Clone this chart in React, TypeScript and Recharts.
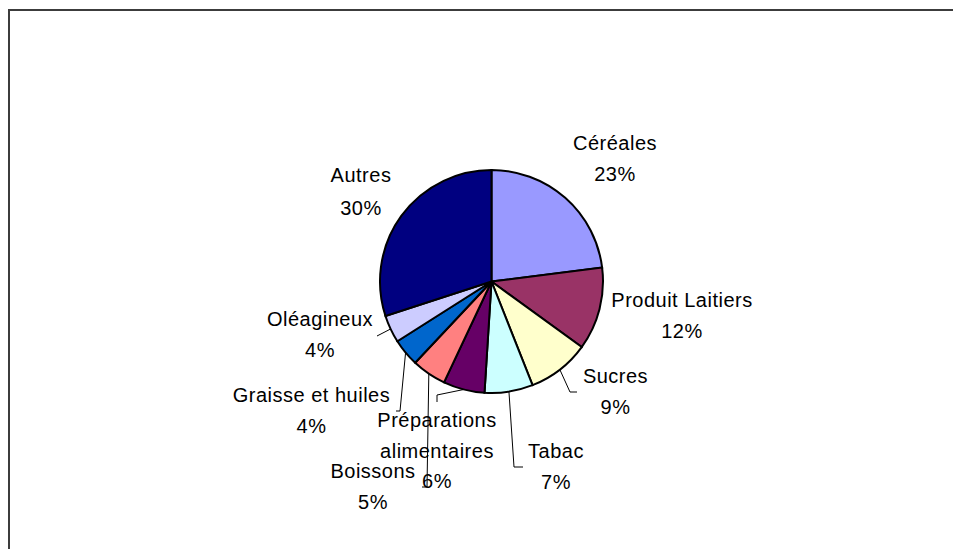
import React from "react";
import { Pie, PieChart, Cell } from "recharts";

const categories = [
  "Céréales",
  "Produit Laitiers",
  "Sucres",
  "Tabac",
  "Préparations alimentaires",
  "Boissons",
  "Graisse et huiles",
  "Oléagineux",
  "Autres",
];
const shares = [23, 12, 9, 7, 6, 5, 4, 4, 30];
const colors = [
  "#9999FF",
  "#993366",
  "#FFFFCC",
  "#CCFFFF",
  "#660066",
  "#FF8080",
  "#0066CC",
  "#CCCCFF",
  "#000080",
];

// label anchor (centre x, first baseline) relative to the pie centre
const labelAnchors: [number, number][] = [
  [123.5, -131.5],
  [190.5, 25.5],
  [124, 101.5],
  [64.5, 176.5],
  [-54.5, 145.5],
  [-118.5, 196.5],
  [-180, 120.5],
  [-171.5, 44.5],
  [-130.5, -99.5],
];

// leader line bends, relative to the pie centre (start is the slice edge)
const leaders: [number, number][][] = [
  [],
  [],
  [[78.5, 110.5], [85.5, 110.5]],
  [[22.5, 185.5], [31.5, 185.5]],
  [[-54.5, 113.5], [-54.5, 120.5]],
  [[-64.5, 205.5], [-69.5, 205.5]],
  [[-91.5, 129.5], [-95.5, 129.5]],
  [[-114.5, 54.5]],
  [],
];

const data = categories.map((name, i) => ({ name, value: shares[i] }));

const W = 953;
const H = 541;
const CX = 483.5;
const CY = 273.5;
const R = 111.5;
const LINE = 30.5;
const RAD = Math.PI / 180;

const fontStyle = {
  fontFamily: "'Liberation Sans', Arial, sans-serif",
  fontSize: 20,
  letterSpacing: 0.5,
};

function renderLabel(props: any) {
  const { cx, cy, midAngle, outerRadius, index, percent } = props;
  const [dx, dy] = labelAnchors[index];
  const name = categories[index];
  const lines = name === "Préparations alimentaires" ? name.split(" ") : [name];
  lines.push(`${Math.round(percent * 100)}%`);
  const sx = cx + outerRadius * Math.cos(-midAngle * RAD);
  const sy = cy + outerRadius * Math.sin(-midAngle * RAD);
  const pts = [[sx, sy], ...leaders[index].map(([px, py]) => [cx + px, cy + py])];
  const gap = index === 8 ? 33 : LINE;
  return (
    <g key={`lbl-${index}`}>
      {pts.length > 1 && (
        <polyline
          points={pts.map((p) => p.join(",")).join(" ")}
          fill="none"
          stroke="#000"
          strokeWidth={1}
        />
      )}
      {lines.map((t, j) => (
        <text
          key={j}
          x={cx + dx}
          y={cy + dy + j * gap}
          textAnchor="middle"
          fill="#000"
          style={fontStyle}
        >
          {t}
        </text>
      ))}
    </g>
  );
}

export default function App() {
  return (
    <div style={{ position: "relative", width: W, height: H, overflow: "hidden" }}>
      <div
        style={{
          position: "absolute",
          left: 0,
          top: 1,
          width: W + 20,
          height: H + 20,
          borderTop: "2px solid #3c3c3c",
          borderLeft: "2px solid #3c3c3c",
          boxSizing: "border-box",
        }}
      />
      <div style={{ position: "absolute", left: 0, top: 0 }}>
        <PieChart width={W} height={H} margin={{ top: 0, right: 0, bottom: 0, left: 0 }}>
          <Pie
            data={data}
            dataKey="value"
            nameKey="name"
            cx={CX}
            cy={CY}
            outerRadius={R}
            startAngle={90}
            endAngle={-270}
            stroke="#000"
            strokeWidth={2}
            label={renderLabel}
            labelLine={false}
            isAnimationActive={false}
          >
            {data.map((d, i) => (
              <Cell key={d.name} fill={colors[i]} />
            ))}
          </Pie>
        </PieChart>
      </div>
    </div>
  );
}
